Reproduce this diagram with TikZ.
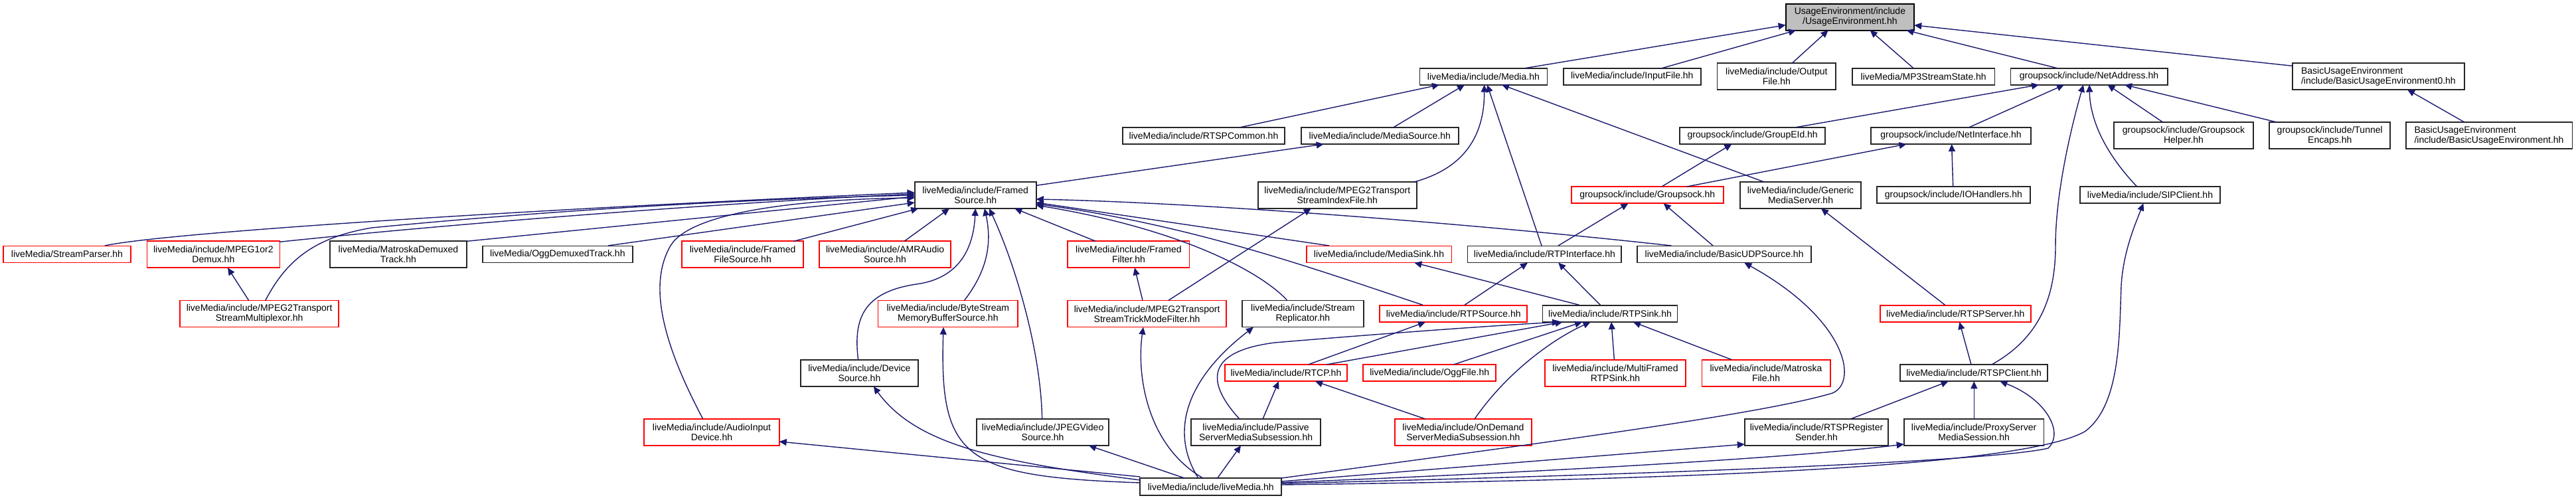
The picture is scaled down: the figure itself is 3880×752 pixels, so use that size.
\documentclass[tikz,border=0pt]{standalone}
\usepackage{fontspec}
\setmainfont{Liberation Sans}
\usetikzlibrary{arrows.meta,calc}
\definecolor{edgec}{HTML}{191970}
\definecolor{redc}{HTML}{FF0000}
\definecolor{grayf}{HTML}{BFBFBF}
\definecolor{bord}{HTML}{262626}
\tikzset{
  nd/.style 2 args={draw, line width=0.9pt, inner sep=0pt, minimum width=#1*0.5pt, minimum height=#2*0.5pt,
    font=\fontsize{7pt}{7.5pt}\selectfont, align=center},
  bk/.style={draw=bord},
  rd/.style={draw=redc},
  e/.style={draw=edgec, line width=0.7pt, -{Triangle[length=5.5pt,width=5pt]}}
}
\begin{document}
\begin{tikzpicture}[x=0.5pt,y=-0.5pt]
\useasboundingbox (0,0) rectangle (3880,752);
% ---- nodes ----
\node[nd={193.6}{40},draw=black,fill=grayf] (UE) at (2786.4,25.7) {UsageEnvironment/include\\/UsageEnvironment.hh};
\node[nd={192}{25},bk] (Media) at (2234.4,115.2) {liveMedia/include/Media.hh};
\node[nd={207}{25},bk] (InFile) at (2458.3,115.2) {liveMedia/include/InputFile.hh};
\node[nd={178.5}{40},bk] (OutFile) at (2675.8,115.2) {liveMedia/include/Output\\File.hh};
\node[nd={214.7}{25},bk] (MP3) at (2897.2,115.2) {liveMedia/MP3StreamState.hh};
\node[nd={236.2}{25},bk] (NetAddr) at (3146.5,115.2) {groupsock/include/NetAddress.hh};
\node[nd={258.4}{40},bk,align=left] (BUE0) at (3582.4,115.2) {BasicUsageEnvironment\\/include/BasicUsageEnvironment0.hh};
\node[nd={243.7}{25},bk] (RTSPCom) at (1813,204.3) {liveMedia/include/RTSPCommon.hh};
\node[nd={237.3}{25},bk] (MSrc) at (2078.3,204.3) {liveMedia/include/MediaSource.hh};
\node[nd={218.7}{25},bk] (GEId) at (2639.7,204.3) {groupsock/include/GroupEId.hh};
\node[nd={240.3}{25},bk] (NetIf) at (2938.5,204.3) {groupsock/include/NetInterface.hh};
\node[nd={209.6}{40},bk] (GSHelper) at (3289,204.3) {groupsock/include/Groupsock\\Helper.hh};
\node[nd={181.9}{40},bk] (Tunnel) at (3509.2,204.3) {groupsock/include/Tunnel\\Encaps.hh};
\node[nd={250.9}{40},bk,align=left] (BUE) at (3749,204.3) {BasicUsageEnvironment\\/include/BasicUsageEnvironment.hh};
\node[nd={183.1}{40},bk] (FS) at (1469.2,294) {liveMedia/include/Framed\\Source.hh};
\node[nd={238.9}{40},bk] (TSIdx) at (2014.3,294) {liveMedia/include/MPEG2Transport\\StreamIndexFile.hh};
\node[nd={229.2}{25},rd] (GSock) at (2481.2,293.7) {groupsock/include/Groupsock.hh};
\node[nd={182.7}{40},bk] (GenMS) at (2712,294) {liveMedia/include/Generic\\MediaServer.hh};
\node[nd={231.1}{25},bk] (IOH) at (2942.4,293.7) {groupsock/include/IOHandlers.hh};
\node[nd={211.4}{25},bk] (SIP) at (3238.5,293.7) {liveMedia/include/SIPClient.hh};
\node[nd={192}{25},rd] (SP) at (101,382.9) {liveMedia/StreamParser.hh};
\node[nd={200}{40},rd] (M12Dmx) at (321.4,383.3) {liveMedia/include/MPEG1or2\\Demux.hh};
\node[nd={206.5}{40},bk] (MkvDT) at (599.9,383.3) {liveMedia/MatroskaDemuxed\\Track.hh};
\node[nd={225.6}{25},bk] (OggDT) at (839.9,382.9) {liveMedia/OggDemuxedTrack.hh};
\node[nd={182.7}{40},rd] (FFS) at (1118.6,383.3) {liveMedia/include/Framed\\FileSource.hh};
\node[nd={197.6}{40},rd] (AMR) at (1333.1,383.3) {liveMedia/include/AMRAudio\\Source.hh};
\node[nd={183.1}{40},rd] (FF) at (1699.9,383.3) {liveMedia/include/Framed\\Filter.hh};
\node[nd={218.8}{25},rd] (MSink) at (2077,382.9) {liveMedia/include/MediaSink.hh};
\node[nd={231.9}{25},bk] (RTPIf) at (2326.4,382.9) {liveMedia/include/RTPInterface.hh};
\node[nd={261.6}{25},bk] (BUDP) at (2597.1,382.9) {liveMedia/include/BasicUDPSource.hh};
\node[nd={239.1}{40},rd] (TSMux) at (390.6,472.5) {liveMedia/include/MPEG2Transport\\StreamMultiplexor.hh};
\node[nd={210.5}{40},rd] (BSMB) at (1427.8,472.5) {liveMedia/include/ByteStream\\MemoryBufferSource.hh};
\node[nd={238.6}{40},rd] (TSTrick) at (1727.6,472.5) {liveMedia/include/MPEG2Transport\\StreamTrickModeFilter.hh};
\node[nd={182.9}{40},bk] (SRep) at (1962.4,472.5) {liveMedia/include/Stream\\Replicator.hh};
\node[nd={221.8}{25},rd] (RTPSrc) at (2189.2,472.2) {liveMedia/include/RTPSource.hh};
\node[nd={202.9}{25},bk] (RTPSink) at (2425,472.2) {liveMedia/include/RTPSink.hh};
\node[nd={226.8}{25},rd] (RTSPSrv) at (2945.3,472.2) {liveMedia/include/RTSPServer.hh};
\node[nd={177.4}{40},bk] (DevSrc) at (1294.4,561.8) {liveMedia/include/Device\\Source.hh};
\node[nd={183.4}{25},rd] (RTCP) at (1936.9,561.7) {liveMedia/include/RTCP.hh};
\node[nd={200.3}{25},rd] (OggFile) at (2153.2,561.7) {liveMedia/include/OggFile.hh};
\node[nd={212.1}{40},rd] (MFRTP) at (2433,561.8) {liveMedia/include/MultiFramed\\RTPSink.hh};
\node[nd={193.2}{40},rd] (MkvFile) at (2660,561.8) {liveMedia/include/Matroska\\File.hh};
\node[nd={221.8}{25},bk] (RTSPCli) at (2973.1,561.7) {liveMedia/include/RTSPClient.hh};
\node[nd={203.3}{40},rd] (AID) at (1072,651) {liveMedia/include/AudioInput\\Device.hh};
\node[nd={199.1}{40},bk] (JPEG) at (1570.6,651) {liveMedia/include/JPEGVideo\\Source.hh};
\node[nd={194.7}{40},bk] (PSMS) at (1891.6,651) {liveMedia/include/Passive\\ServerMediaSubsession.hh};
\node[nd={206.6}{40},rd] (ODSMS) at (2203.9,651) {liveMedia/include/OnDemand\\ServerMediaSubsession.hh};
\node[nd={216.3}{40},bk] (RTSPReg) at (2736,651) {liveMedia/include/RTSPRegister\\Sender.hh};
\node[nd={210.8}{40},bk] (Proxy) at (2973.1,651) {liveMedia/include/ProxyServer\\MediaSession.hh};
\node[nd={213}{25.7},bk] (LM) at (1823.8,733.2) {liveMedia/include/liveMedia.hh};
% ---- edges: to UsageEnvironment ----
\draw[e] ($(Media)+(62.3,-12.5)$) -- ($(UE)+(-96.8,12)$);
\draw[e] ($(InFile)+(44.7,-12.5)$) -- ($(UE)+(-81.4,20)$);
\draw[e] ($(OutFile)+(23.2,-19.9)$) -- ($(UE)+(-32.8,20)$);
\draw[e] ($(MP3)+(-15.2,-12.5)$) -- ($(UE)+(30.3,20)$);
\draw[e] ($(NetAddr)+(-47.8,-12.5)$) -- ($(UE)+(85.1,20)$);
\draw[e] ($(BUE0)+(-129.2,-15.9)$) -- ($(UE)+(96.8,12.3)$);
% to Media
\draw[e] ($(RTSPCom)+(55,-12.6)$) -- ($(Media)+(-66.4,12.5)$);
\draw[e] ($(MSrc)+(20.7,-12.6)$) -- ($(Media)+(-28.4,12.5)$);
\draw[e] ($(TSIdx)+(115.7,-20)$) .. controls (2200,255) and (2236,210) .. ($(Media)+(1.2,12.5)$);
\draw[e] ($(RTPIf)+(-4.4,-12.9)$) -- ($(Media)+(5.6,12.5)$);
\draw[e] ($(GenMS)+(-55,-20)$) -- ($(Media)+(27.6,12.5)$);
% to MediaSource
\draw[e] ($(FS)+(91.5,-14.7)$) -- ($(MSrc)+(-84.6,12.7)$);
% to NetAddress
\draw[e] ($(GEId)+(65.3,-12.6)$) -- ($(NetAddr)+(-75.5,12.5)$);
\draw[e] ($(NetIf)+(27.5,-12.6)$) -- ($(NetAddr)+(-37.5,12.5)$);
\draw[e] ($(GSHelper)+(-31,-20)$) -- ($(NetAddr)+(28,12.5)$);
\draw[e] ($(Tunnel)+(-78.8,-20)$) -- ($(NetAddr)+(53.5,12.5)$);
\draw[e] ($(SIP)+(-19.8,-12.7)$) .. controls (3170,230) and (3148,180) .. ($(NetAddr)+(0.5,12.5)$);
\draw[e] ($(RTSPCli)+(26.9,-12.7)$) .. controls (3070,510) and (3096,450) .. (3096,370) .. controls (3096,290) and (3120,190) .. ($(NetAddr)+(-8.5,12.5)$);
% to BasicUsageEnvironment0
\draw[e] ($(BUE)+(-36.6,-20)$) -- ($(BUE0)+(43.6,19.8)$);
% to GroupEId / NetInterface
\draw[e] ($(GSock)+(21.8,-12.7)$) -- ($(GEId)+(-31.3,12.7)$);
\draw[e] ($(GSock)+(59.6,-12.7)$) -- ($(NetIf)+(-67,12.7)$);
\draw[e] ($(IOH)+(-0.7,-12.7)$) -- ($(NetIf)+(1.1,12.7)$);
% to Groupsock
\draw[e] ($(RTPIf)+(20.6,-12.9)$) -- ($(GSock)+(-28.8,12.6)$);
\draw[e] ($(BUDP)+(-17.1,-12.9)$) -- ($(GSock)+(24.4,12.6)$);
% to GenericMediaServer / RTSPServer / RTSPClient
\draw[e] ($(RTSPSrv)+(-15.8,-12.9)$) -- ($(GenMS)+(31,20)$);
\draw[e] ($(RTSPCli)+(-4.1,-12.7)$) -- ($(RTSPSrv)+(6.1,12.8)$);
\draw[e] ($(RTSPReg)+(51.3,-20)$) -- ($(RTSPCli)+(-38.5,12.6)$);
\draw[e] ($(Proxy)+(0.2,-20)$) -- ($(RTSPCli)+(0.2,12.6)$);
% from liveMedia to the right
\draw[e] ($(LM)+(106.5,-5)$) .. controls (2500,714) and (3000,695) .. (3085,675) .. controls (3110,650) and (3080,600) .. ($(RTSPCli)+(39.3,12.6)$);
\draw[e] ($(LM)+(106.5,-8.2)$) -- ($(RTSPReg)+(-108.2,18)$);
\draw[e] ($(LM)+(106.5,-6.5)$) .. controls (2300,712) and (2700,690) .. ($(Proxy)+(-105.4,18)$);
\draw[e] ($(LM)+(106.5,-13.2)$) .. controls (2300,670) and (2650,625) .. (2760,592) .. controls (2800,575) and (2780,480) .. ($(BUDP)+(30.2,12.8)$);
\draw[e] ($(LM)+(106.5,-3.2)$) .. controls (2600,722) and (3050,700) .. (3140,650) .. controls (3195,610) and (3192,500) .. (3195,430) .. controls (3198,380) and (3215,340) .. ($(SIP)+(-10.1,12.6)$);
% to FramedSource
\draw[e] ($(SP)+(56.8,-12.9)$) .. controls (250,350) and (800,315) .. ($(FS)+(-91.6,-4)$);
\draw[e] ($(M12Dmx)+(99.5,-19)$) .. controls (700,335) and (1100,305) .. ($(FS)+(-91.6,-2)$);
\draw[e] ($(TSMux)+(9.2,-20.2)$) .. controls (430,395) and (470,358) .. (560,343) .. controls (900,310) and (1200,298) .. ($(FS)+(-91.6,0)$);
\draw[e] ($(MkvDT)+(103.1,-20)$) -- ($(FS)+(-91.6,2)$);
\draw[e] ($(AID)+(-13.2,-20)$) .. controls (1000,520) and (975,430) .. (1010,370) .. controls (1040,320) and (1200,300) .. ($(FS)+(-91.6,4)$);
\draw[e] ($(OggDT)+(75.8,-12.9)$) -- ($(FS)+(-91.6,11)$);
\draw[e] ($(FFS)+(76.9,-20)$) -- ($(FS)+(-86,20)$);
\draw[e] ($(AMR)+(28.9,-20)$) -- ($(FS)+(-39.2,20)$);
\draw[e] ($(DevSrc)+(-1.8,-20.1)$) .. controls (1285,480) and (1300,440) .. (1380,428) .. controls (1440,420) and (1466,380) .. ($(FS)+(0,20)$);
\draw[e] ($(BSMB)+(24.8,-20.2)$) .. controls (1485,410) and (1495,370) .. ($(FS)+(13.8,20)$);
\draw[e] ($(JPEG)+(-1,-20)$) .. controls (1568,530) and (1530,400) .. ($(FS)+(20.8,20)$);
\draw[e] ($(FF)+(-49.5,-20)$) -- ($(FS)+(59.1,20)$);
\draw[e] ($(BUDP)+(-79.5,-12.9)$) .. controls (2200,335) and (1800,305) .. ($(FS)+(91.5,6)$);
\draw[e] ($(MSink)+(-75,-12.9)$) -- ($(FS)+(91.5,11)$);
\draw[e] ($(RTPSrc)+(-46.2,-12.9)$) .. controls (1980,405) and (1800,340) .. ($(FS)+(91.5,13)$);
\draw[e] ($(SRep)+(-23.7,-20.2)$) .. controls (1900,410) and (1780,345) .. ($(FS)+(91.5,15)$);
% other mid-level edges
\draw[e] ($(TSMux)+(-16,-20.2)$) -- ($(M12Dmx)+(21.6,20)$);
\draw[e] ($(TSTrick)+(-6.6,-20.2)$) -- ($(FF)+(9.1,20)$);
\draw[e] ($(TSTrick)+(32.4,-20.2)$) -- ($(TSIdx)+(-39.6,20)$);
\draw[e] ($(RTPSink)+(-46.2,-12.9)$) -- ($(MSink)+(53.4,12.8)$);
\draw[e] ($(RTPSink)+(-14.7,-12.9)$) -- ($(RTPIf)+(20.8,12.8)$);
\draw[e] ($(RTPSrc)+(16.8,-12.9)$) -- ($(RTPIf)+(-25.4,12.8)$);
\draw[e] ($(RTCP)+(33.6,-12.7)$) -- ($(RTPSrc)+(-42.2,12.8)$);
\draw[e] ($(RTCP)+(61,-12.7)$) -- ($(RTPSink)+(-71.5,12.8)$);
\draw[e] ($(OggFile)+(36.2,-12.7)$) -- ($(RTPSink)+(-42,12.8)$);
\draw[e] ($(ODSMS)+(17.1,-20)$) .. controls (2270,560) and (2340,510) .. ($(RTPSink)+(-29.4,12.8)$);
\draw[e] ($(MFRTP)+(-1.6,-20.1)$) -- ($(RTPSink)+(2,12.8)$);
\draw[e] ($(MkvFile)+(-51.6,-20.1)$) -- ($(RTPSink)+(35,12.8)$);
\draw[e] ($(PSMS)+(-24.6,-20)$) .. controls (1820,580) and (1810,530) .. (1920,516) .. controls (2050,505) and (2250,490) .. ($(RTPSink)+(-76,12.8)$);
\draw[e] ($(PSMS)+(10.4,-20)$) -- ($(RTCP)+(-10.9,12.6)$);
\draw[e] ($(ODSMS)+(-56.9,-20)$) -- ($(RTCP)+(44.1,12.6)$);
% from liveMedia to the top and left
\draw[e] ($(LM)+(9.7,-12.9)$) -- ($(PSMS)+(-22.6,20)$);
\draw[e] ($(LM)+(-11.4,-12.9)$) .. controls (1725,670) and (1712,560) .. ($(TSTrick)+(-5.6,20.2)$);
\draw[e] ($(LM)+(-18.8,-12.9)$) .. controls (1755,640) and (1800,560) .. ($(SRep)+(-74.4,20.2)$);
\draw[e] ($(LM)+(-38.8,-12.9)$) -- ($(JPEG)+(69.4,20)$);
\draw[e] ($(LM)+(-106.5,-10.2)$) .. controls (1500,695) and (1380,670) .. ($(DevSrc)+(21.4,20.2)$);
\draw[e] ($(LM)+(-106.5,-6.2)$) .. controls (1450,718) and (1415,690) .. ($(BSMB)+(-6.8,20.2)$);
\draw[e] ($(LM)+(-106.5,-15.2)$) -- ($(AID)+(101.7,14)$);
\end{tikzpicture}
\end{document}
